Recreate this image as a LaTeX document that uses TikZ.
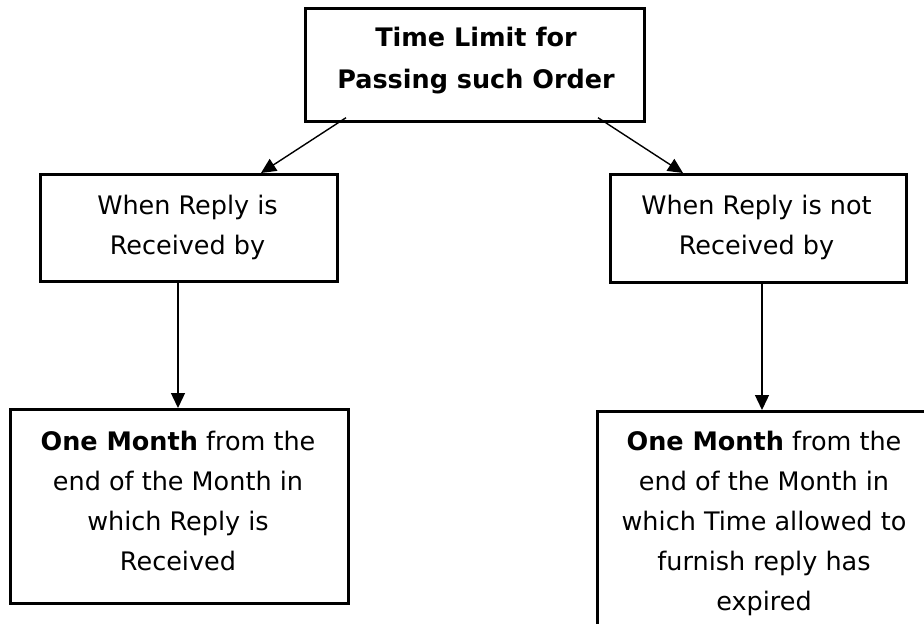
\documentclass[tikz,border=0pt]{standalone}
\usepackage{fontspec}
\setmainfont{DejaVu Sans}
\usetikzlibrary{arrows.meta,calc}
\begin{document}
\begin{tikzpicture}[x=1pt,y=-1pt,
  boxframe/.style={draw, line width=2.7pt, inner sep=0pt, anchor=north west},
  boxtext/.style={align=center, inner sep=0pt, anchor=north,
    font=\fontsize{25.5}{40.5}\selectfont},
  link/.style={line width=1.4pt, -{Triangle[length=15pt,width=14pt]}}]
  \useasboundingbox[fill=white] (0,0) rectangle (924,624);
  \clip (0,0) rectangle (924,624);

  % boxes
  \node[boxframe, minimum width=339pt, minimum height=113pt] (top) at (304,7) {};
  \node[boxframe, minimum width=297pt, minimum height=107pt] (lm) at (39,173) {};
  \node[boxframe, minimum width=296pt, minimum height=108pt] (rm) at (609,173) {};
  \node[boxframe, minimum width=338pt, minimum height=194pt] (bl) at (9,408) {};
  \node[boxframe, minimum width=336pt, minimum height=240pt] (br) at (596,410) {};

  % texts
  \node[boxtext, font=\fontsize{25.5}{42}\selectfont\bfseries] (toptxt) at (476,27)
    {Time Limit for\\Passing such Order};
  \node[boxtext] (lmtxt) at (187.5,194.5) {When Reply is\\Received by};
  \node[boxtext] (rmtxt) at (756.5,194.5) {When Reply is not\\Received by};
  \node[boxtext, font=\fontsize{25.5}{40}\selectfont] (bltxt) at (178,431)
    {\textbf{One Month} from the\\end of the Month in\\which Reply is\\Received};
  \node[boxtext, font=\fontsize{25.5}{40}\selectfont] (brtxt) at (764,431)
    {\textbf{One Month} from the\\end of the Month in\\which Time allowed to\\furnish reply has\\expired};

  % connector end points
  \coordinate (tl) at ($(top.south west)+(42,-5)$);
  \coordinate (tr) at ($(top.south west)+(294,-5)$);
  \coordinate (lmin) at ($(lm.north west)+(222,0)$);
  \coordinate (rmin) at ($(rm.north west)+(74,0)$);
  \coordinate (lmout) at ($(lm.south west)+(139,0)$);
  \coordinate (rmout) at ($(rm.south west)+(153,0)$);

  % connectors
  \draw[link] (tl) -- (lmin);
  \draw[link] (tr) -- (rmin);
  \draw[link] (lmout) -- (lmout |- bl.north);
  \draw[link] (rmout) -- (rmout |- br.north);
\end{tikzpicture}
\end{document}
